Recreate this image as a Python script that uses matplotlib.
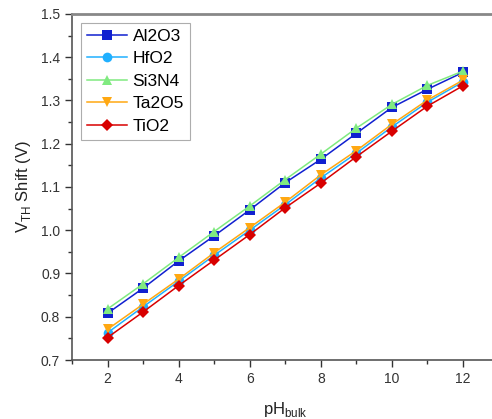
import numpy as np
import matplotlib.pyplot as plt
from matplotlib.ticker import MultipleLocator

plt.rcParams["font.family"] = ["Liberation Sans", "DejaVu Sans"]

# pH values and V_TH shift per gate oxide
ph = [2, 3, 4, 5, 6, 7, 8, 9, 10, 11, 12]
al2o3 = [0.808, 0.866, 0.929, 0.987, 1.047, 1.110, 1.164, 1.224, 1.284, 1.326, 1.365]
hfo2 = [0.763, 0.823, 0.882, 0.942, 1.000, 1.059, 1.121, 1.178, 1.239, 1.296, 1.343]
si3n4 = [0.818, 0.876, 0.937, 0.997, 1.056, 1.117, 1.176, 1.236, 1.291, 1.335, 1.368]
ta2o5 = [0.771, 0.829, 0.887, 0.948, 1.006, 1.065, 1.128, 1.184, 1.245, 1.301, 1.347]
tio2 = [0.752, 0.811, 0.872, 0.931, 0.990, 1.052, 1.109, 1.170, 1.229, 1.287, 1.334]

series = [
    ("Al2O3", al2o3, "#1020d0", "s"),
    ("HfO2", hfo2, "#20b0ff", "o"),
    ("Si3N4", si3n4, "#80ea80", "^"),
    ("Ta2O5", ta2o5, "#ffa812", "v"),
    ("TiO2", tio2, "#d80000", "D"),
]

fig = plt.figure(figsize=(4.92, 4.19), dpi=100)
ax = fig.add_axes([72 / 492, 59 / 419, 426.5 / 492, 346 / 419])

for name, vals, col, mk in series:
    ms = 6 if mk == "D" else 7
    ax.plot(ph, vals, color=col, marker=mk, markersize=ms, linewidth=1.1,
            markeredgewidth=0, label=name)

ax.set_xlim(1, 13)
ax.set_ylim(0.7, 1.5)
ax.xaxis.set_major_locator(MultipleLocator(2))
ax.xaxis.set_minor_locator(MultipleLocator(1))
ax.yaxis.set_major_locator(MultipleLocator(0.1))
ax.yaxis.set_minor_locator(MultipleLocator(0.05))
ax.tick_params(which="major", direction="out", length=5, width=1, labelsize=10, colors="#333333")
ax.tick_params(which="minor", direction="out", length=3, width=1, colors="#333333")
ax.yaxis.set_major_formatter(plt.FormatStrFormatter("%.1f"))

for s in ax.spines.values():
    s.set_color("#555555")
    s.set_linewidth(1.2)
ax.spines["top"].set_color("#888888")
ax.spines["top"].set_linewidth(2)

ax.set_xlabel(r"pH$_{\mathregular{bulk}}$", fontsize=12, color="#222222", labelpad=10)
ax.set_ylabel(r"V$_{\mathregular{TH}}$ Shift (V)", fontsize=12, color="#222222", labelpad=6)

leg = ax.legend(loc="upper left", bbox_to_anchor=(0.022, 0.975), fontsize=12.5,
                frameon=True, fancybox=False, edgecolor="#999999",
                handlelength=2.3, handletextpad=0.3, borderpad=0.35,
                labelspacing=0.42, borderaxespad=0)
leg.get_frame().set_linewidth(0.8)

fig.savefig("out.png", dpi=100)
